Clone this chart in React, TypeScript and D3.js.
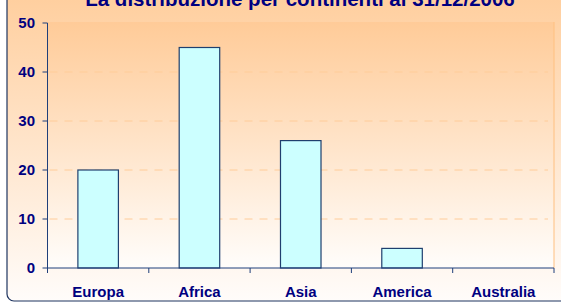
import React from 'react';
import { scaleBand, scaleLinear } from 'd3';

const width = 561;
const height = 302;

const continents = ['Europa', 'Africa', 'Asia', 'America', 'Australia'];
const counts = [20, 45, 26, 4, 0];
const yTicks = [0, 10, 20, 30, 40, 50];
const title = 'La distribuzione per continenti al 31/12/2006';

const plot = { left: 47.5, right: 554, top: 23, bottom: 268 };

const x = scaleBand<string>()
  .domain(continents)
  .range([plot.left, plot.right])
  .paddingInner(0.6)
  .paddingOuter(0.3);
const xBand = scaleBand<string>().domain(continents).range([plot.left, plot.right]);
const y = scaleLinear().domain([0, 50]).range([plot.bottom, plot.top]);

const navy = '#000080';
const axisColor = '#1f3f7a';
const font = 'Arial, "Liberation Sans", sans-serif';

const App = () => {
  return (
    <svg
      width={width}
      height={height}
      style={{ position: 'absolute', left: 0, top: 0, display: 'block' }}
    >
      <defs>
        <linearGradient id="outerBg" x1="0" y1="0" x2="0" y2="1">
          <stop offset="0" stopColor="#ffcc99" />
          <stop offset="1" stopColor="#fffcfa" />
        </linearGradient>
        <linearGradient id="plotBg" x1="0" y1="0" x2="0" y2="1">
          <stop offset="0" stopColor="#ffcb98" />
          <stop offset="1" stopColor="#fffdfb" />
        </linearGradient>
      </defs>
      <rect width={width} height={height} fill="#fff" />
      <rect
        x={7}
        y={-20}
        width={620}
        height={321}
        rx={7}
        fill="url(#outerBg)"
        stroke="#1f3560"
        strokeWidth={1.2}
      />
      <rect
        x={plot.left}
        y={plot.top - 1}
        width={plot.right - plot.left}
        height={plot.bottom - plot.top + 1}
        fill="url(#plotBg)"
      />
      <line
        x1={plot.right}
        x2={plot.right}
        y1={plot.top - 1}
        y2={plot.bottom}
        stroke="#ffc080"
        strokeWidth={1}
      />
      <text
        x={300}
        y={6}
        textAnchor="middle"
        fontFamily={font}
        fontWeight="bold"
        fontSize={20.5}
        fill={navy}
      >
        {title}
      </text>
      {yTicks
        .filter((t) => t > 0 && t < 50)
        .map((t) => (
          <line
            key={'g' + t}
            x1={plot.left + 2}
            x2={plot.right - 6}
            y1={y(t)}
            y2={y(t)}
            stroke="#ffcc99"
            strokeWidth={1}
            strokeDasharray="8,7"
          />
        ))}
      {continents.map((c, i) => (
        <rect
          key={c}
          x={x(c)}
          y={y(counts[i])}
          width={x.bandwidth()}
          height={plot.bottom - y(counts[i])}
          fill="#ccffff"
          stroke="#1f3f6e"
          strokeWidth={1.2}
        />
      ))}
      <line x1={plot.left} x2={plot.left} y1={y(50)} y2={plot.bottom} stroke={axisColor} />
      <line x1={plot.left} x2={plot.right} y1={plot.bottom} y2={plot.bottom} stroke={axisColor} />
      {yTicks.map((t) => (
        <g key={t}>
          <line x1={plot.left - 5} x2={plot.left} y1={y(t)} y2={y(t)} stroke={axisColor} />
          <text
            x={35}
            y={y(t)}
            dy="0.36em"
            textAnchor="end"
            fontFamily={font}
            fontWeight="bold"
            fontSize={15}
            fill={navy}
          >
            {t}
          </text>
        </g>
      ))}
      {continents.map((c) => (
        <line
          key={'t' + c}
          x1={(xBand(c) as number) + xBand.bandwidth()}
          x2={(xBand(c) as number) + xBand.bandwidth()}
          y1={plot.bottom}
          y2={plot.bottom + 5}
          stroke={axisColor}
        />
      ))}
      <line x1={plot.left} x2={plot.left} y1={plot.bottom} y2={plot.bottom + 5} stroke={axisColor} />
      {continents.map((c) => (
        <text
          key={'l' + c}
          x={(x(c) as number) + x.bandwidth() / 2}
          y={292}
          dy="0.36em"
          textAnchor="middle"
          fontFamily={font}
          fontWeight="bold"
          fontSize={15}
          fill={navy}
        >
          {c}
        </text>
      ))}
    </svg>
  );
};

export default App;
